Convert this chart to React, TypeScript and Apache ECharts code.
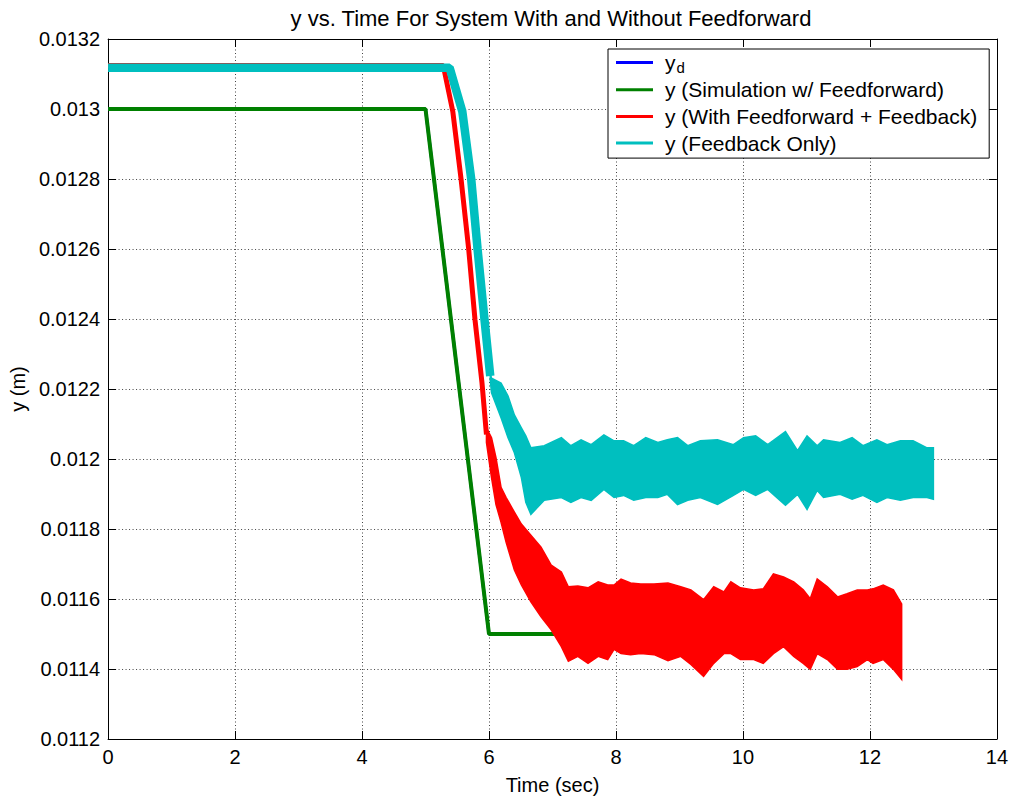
import React, { useEffect, useRef } from "react";
import * as echarts from "echarts";

// ---- axis ticks ----
const xTickValues = [0, 2, 4, 6, 8, 10, 12, 14];
const xTickLabels = ["0", "2", "4", "6", "8", "10", "12", "14"];
const yTickValues = [0.0112, 0.0114, 0.0116, 0.0118, 0.012, 0.0122, 0.0124, 0.0126, 0.0128, 0.013, 0.0132];
const yTickLabels = ["0.0112", "0.0114", "0.0116", "0.0118", "0.012", "0.0122", "0.0124", "0.0126", "0.0128", "0.013", "0.0132"];

// ---- series names ----
const seriesNames = ["y_d", "y (Simulation w/ Feedforward)", "y (With Feedforward + Feedback)", "y (Feedback Only)"];

// ---- y_d (desired) ----
const ydTime = [0, 5.0, 6.0, 12.5];
const ydValue = [0.013, 0.013, 0.0115, 0.0115];

// ---- simulation with feedforward ----
const simTime = [0, 5.0, 6.0, 12.5];
const simValue = [0.013, 0.013, 0.0115, 0.0115];

// ---- with feedforward + feedback: transition path ----
const ffTime = [0, 5.28, 5.43, 5.56, 5.68, 5.78, 5.89, 5.96];
const ffValue = [0.013124, 0.013124, 0.012993, 0.0128, 0.0126, 0.012397, 0.012217, 0.01207];
// noisy envelope
const ffBandTime = [5.96, 6.04, 6.11, 6.19, 6.27, 6.4, 6.51, 6.66, 6.82, 6.98, 7.14, 7.25, 7.4, 7.56, 7.72, 7.87, 7.97, 8.08, 8.23, 8.39, 8.6, 8.82, 9.02, 9.18, 9.38, 9.54, 9.7, 9.81, 9.96, 10.17, 10.32, 10.48, 10.64, 10.8, 10.95, 11.06, 11.17, 11.33, 11.49, 11.64, 11.8, 11.96, 12.05, 12.21, 12.37, 12.5];
const ffBandHigh = [0.012089, 0.012061, 0.012004, 0.011919, 0.01189, 0.011848, 0.011814, 0.011782, 0.011748, 0.011697, 0.011677, 0.011635, 0.011637, 0.011632, 0.011649, 0.01164, 0.01164, 0.011657, 0.011646, 0.011643, 0.011643, 0.011646, 0.011635, 0.011626, 0.011598, 0.011635, 0.01162, 0.011649, 0.011632, 0.011626, 0.011629, 0.011672, 0.011663, 0.011649, 0.011626, 0.011601, 0.011657, 0.011635, 0.011606, 0.011615, 0.011626, 0.011626, 0.011629, 0.01164, 0.011626, 0.011586];
const ffBandLow = [0.012047, 0.011947, 0.01187, 0.011819, 0.011762, 0.011683, 0.01164, 0.011592, 0.011549, 0.011512, 0.011464, 0.011422, 0.011436, 0.011416, 0.011436, 0.011427, 0.011456, 0.011444, 0.011441, 0.011444, 0.011441, 0.011424, 0.011436, 0.011413, 0.011379, 0.011416, 0.011444, 0.011444, 0.011427, 0.011427, 0.011416, 0.011444, 0.011464, 0.011436, 0.011416, 0.011399, 0.011444, 0.011427, 0.011399, 0.011399, 0.011407, 0.011427, 0.011416, 0.011427, 0.011399, 0.01137];

// ---- feedback only: transition path ----
const fbTime = [0, 5.38, 5.58, 5.72, 5.82, 5.93, 6.02];
const fbValue = [0.013118, 0.013118, 0.012993, 0.0128, 0.0126, 0.012397, 0.012237];
// noisy envelope
const fbBandTime = [6.02, 6.04, 6.19, 6.3, 6.4, 6.51, 6.58, 6.66, 6.87, 7.14, 7.29, 7.45, 7.61, 7.81, 7.97, 8.12, 8.28, 8.47, 8.66, 8.81, 8.97, 9.13, 9.33, 9.6, 9.85, 10.01, 10.2, 10.39, 10.67, 10.86, 11.01, 11.17, 11.27, 11.53, 11.72, 11.89, 12.11, 12.27, 12.48, 12.68, 12.9, 13.0];
const fbBandHigh = [0.012245, 0.012231, 0.012217, 0.01218, 0.012126, 0.012089, 0.012066, 0.012032, 0.012038, 0.012061, 0.012038, 0.012055, 0.012041, 0.012069, 0.012052, 0.012052, 0.012038, 0.012061, 0.012047, 0.012055, 0.012061, 0.012038, 0.012052, 0.012055, 0.012041, 0.012061, 0.012066, 0.012041, 0.012078, 0.012024, 0.012066, 0.012038, 0.012055, 0.012047, 0.012061, 0.012038, 0.012055, 0.012041, 0.012052, 0.012052, 0.012032, 0.012032];
const fbBandLow = [0.012225, 0.012189, 0.012118, 0.012061, 0.012018, 0.011947, 0.011876, 0.011842, 0.011882, 0.01189, 0.011876, 0.01189, 0.011882, 0.011913, 0.01189, 0.011896, 0.011882, 0.01189, 0.01189, 0.011899, 0.01187, 0.011882, 0.01189, 0.01187, 0.011896, 0.011913, 0.011896, 0.011913, 0.011868, 0.011899, 0.011856, 0.01191, 0.01189, 0.011899, 0.011885, 0.011896, 0.011876, 0.01189, 0.011882, 0.01189, 0.01189, 0.011885];

const colors = { yd: "#0000ff", sim: "#008000", ff: "#ff0000", fb: "#00bfbf" };
const FONT = "'Liberation Sans', Arial, sans-serif";

const pairs = (xs: number[], ys: number[]) => xs.map((x, i) => [x, ys[i]]);

// band polygon drawn through the cartesian scales (api.coord)
const bandSeries = (name: string, ts: number[], lo: number[], hi: number[], color: string, z: number) => ({
  name,
  type: "custom",
  silent: true,
  z,
  data: ts.map((t, i) => [t, lo[i], hi[i]]),
  encode: { x: 0, y: [1, 2] },
  renderItem: (params: any, api: any) => {
    if (params.dataIndex !== 0) return null;
    const upper = ts.map((t, i) => api.coord([t, hi[i]]));
    const lower = ts.map((t, i) => api.coord([t, lo[i]])).reverse();
    return {
      type: "polygon",
      shape: { points: upper.concat(lower) },
      style: { fill: color, stroke: color, lineWidth: 1.5, lineJoin: "miter" },
    };
  },
});

export default function App() {
  const ref = useRef<HTMLDivElement>(null);
  useEffect(() => {
    document.body.style.margin = "0";
    if (!ref.current) return;
    const chart = echarts.init(ref.current, null, { renderer: "svg" });
    const xMin = xTickValues[0];
    const xMax = xTickValues[xTickValues.length - 1];
    const yMin = yTickValues[0];
    const yMax = yTickValues[yTickValues.length - 1];
    const xFmt = (v: number) => {
      const i = xTickValues.findIndex((t) => Math.abs(t - v) < 1e-9);
      return i >= 0 ? xTickLabels[i] : "";
    };
    const yFmt = (v: number) => {
      const i = yTickValues.findIndex((t) => Math.abs(t - v) < 1e-9);
      return i >= 0 ? yTickLabels[i] : "";
    };
    const gridLine = { show: true, lineStyle: { color: "#444", width: 1, type: [1, 2.5] as any } };
    chart.setOption({
      animation: false,
      backgroundColor: "#ffffff",
      title: {
        text: "y vs. Time For System With and Without Feedforward",
        left: 546,
        top: 2,
        textAlign: "center",
        textStyle: { fontFamily: FONT, fontSize: 22, fontWeight: "normal", color: "#000" },
      },
      legend: {
        data: seriesNames,
        orient: "vertical",
        left: 608,
        top: 49,
        padding: [1, 12, 3, 8],
        itemGap: 2.7,
        itemWidth: 37,
        itemHeight: 3,
        icon: "rect",
        backgroundColor: "#ffffff",
        borderColor: "#000",
        borderWidth: 1,
        borderRadius: 0,
        formatter: (name: string) => (name === "y_d" ? "{n|y}{s|d}" : name),
        textStyle: {
          fontFamily: FONT,
          fontSize: 21,
          lineHeight: 24,
          color: "#000",
          padding: [0, 0, 0, 7],
          rich: {
            n: { fontFamily: FONT, fontSize: 21, lineHeight: 24, color: "#000" },
            s: { fontFamily: FONT, fontSize: 15, lineHeight: 14, padding: [10, 0, 0, 1], color: "#000" },
          },
        },
      },
      grid: { left: 106, right: 14, top: 39, bottom: 57, show: false },
      xAxis: [
        {
          type: "value",
          min: xMin,
          max: xMax,
          interval: 2,
          name: "Time (sec)",
          nameLocation: "middle",
          nameGap: 36,
          nameTextStyle: { fontFamily: FONT, fontSize: 20, color: "#000" },
          axisLine: { show: true, onZero: false, lineStyle: { color: "#000", width: 1 } },
          axisTick: { show: true, inside: true, length: 8, lineStyle: { color: "#000" } },
          axisLabel: { fontFamily: FONT, fontSize: 20, color: "#000", margin: 8, formatter: xFmt },
          splitLine: gridLine,
        },
        {
          type: "value",
          position: "top",
          min: xMin,
          max: xMax,
          interval: 2,
          axisLine: { show: true, onZero: false, lineStyle: { color: "#000", width: 1 } },
          axisTick: { show: true, inside: true, length: 8, lineStyle: { color: "#000" } },
          axisLabel: { show: false },
          splitLine: { show: false },
        },
      ],
      yAxis: [
        {
          type: "value",
          min: yMin,
          max: yMax,
          interval: 0.0002,
          name: "y (m)",
          nameLocation: "middle",
          nameGap: 78,
          nameTextStyle: { fontFamily: FONT, fontSize: 20, color: "#000" },
          axisLine: { show: true, onZero: false, lineStyle: { color: "#000", width: 1 } },
          axisTick: { show: true, inside: true, length: 8, lineStyle: { color: "#000" } },
          axisLabel: { fontFamily: FONT, fontSize: 20, color: "#000", margin: 8, formatter: yFmt },
          splitLine: gridLine,
        },
        {
          type: "value",
          position: "right",
          min: yMin,
          max: yMax,
          interval: 0.0002,
          axisLine: { show: true, onZero: false, lineStyle: { color: "#000", width: 1 } },
          axisTick: { show: true, inside: true, length: 8, lineStyle: { color: "#000" } },
          axisLabel: { show: false },
          splitLine: { show: false },
        },
      ],
      series: [
        {
          name: seriesNames[0],
          type: "line",
          z: 2,
          data: pairs(ydTime, ydValue),
          color: colors.yd,
          symbol: "none",
          lineStyle: { color: colors.yd, width: 3 },
        },
        {
          name: seriesNames[1],
          type: "line",
          z: 3,
          data: pairs(simTime, simValue),
          color: colors.sim,
          symbol: "none",
          lineStyle: { color: colors.sim, width: 4 },
        },
        bandSeries("ffBand", ffBandTime, ffBandLow, ffBandHigh, colors.ff, 4),
        {
          name: seriesNames[2],
          type: "line",
          z: 4,
          data: pairs(ffTime, ffValue),
          color: colors.ff,
          symbol: "none",
          lineStyle: { color: colors.ff, width: 5 },
        },
        bandSeries("fbBand", fbBandTime, fbBandLow, fbBandHigh, colors.fb, 5),
        {
          name: seriesNames[3],
          type: "line",
          z: 5,
          data: pairs(fbTime, fbValue),
          color: colors.fb,
          symbol: "none",
          lineStyle: { color: colors.fb, width: 8.5 },
        },
      ],
    });
    return () => chart.dispose();
  }, []);
  return <div ref={ref} style={{ width: 1011, height: 800 }} />;
}
